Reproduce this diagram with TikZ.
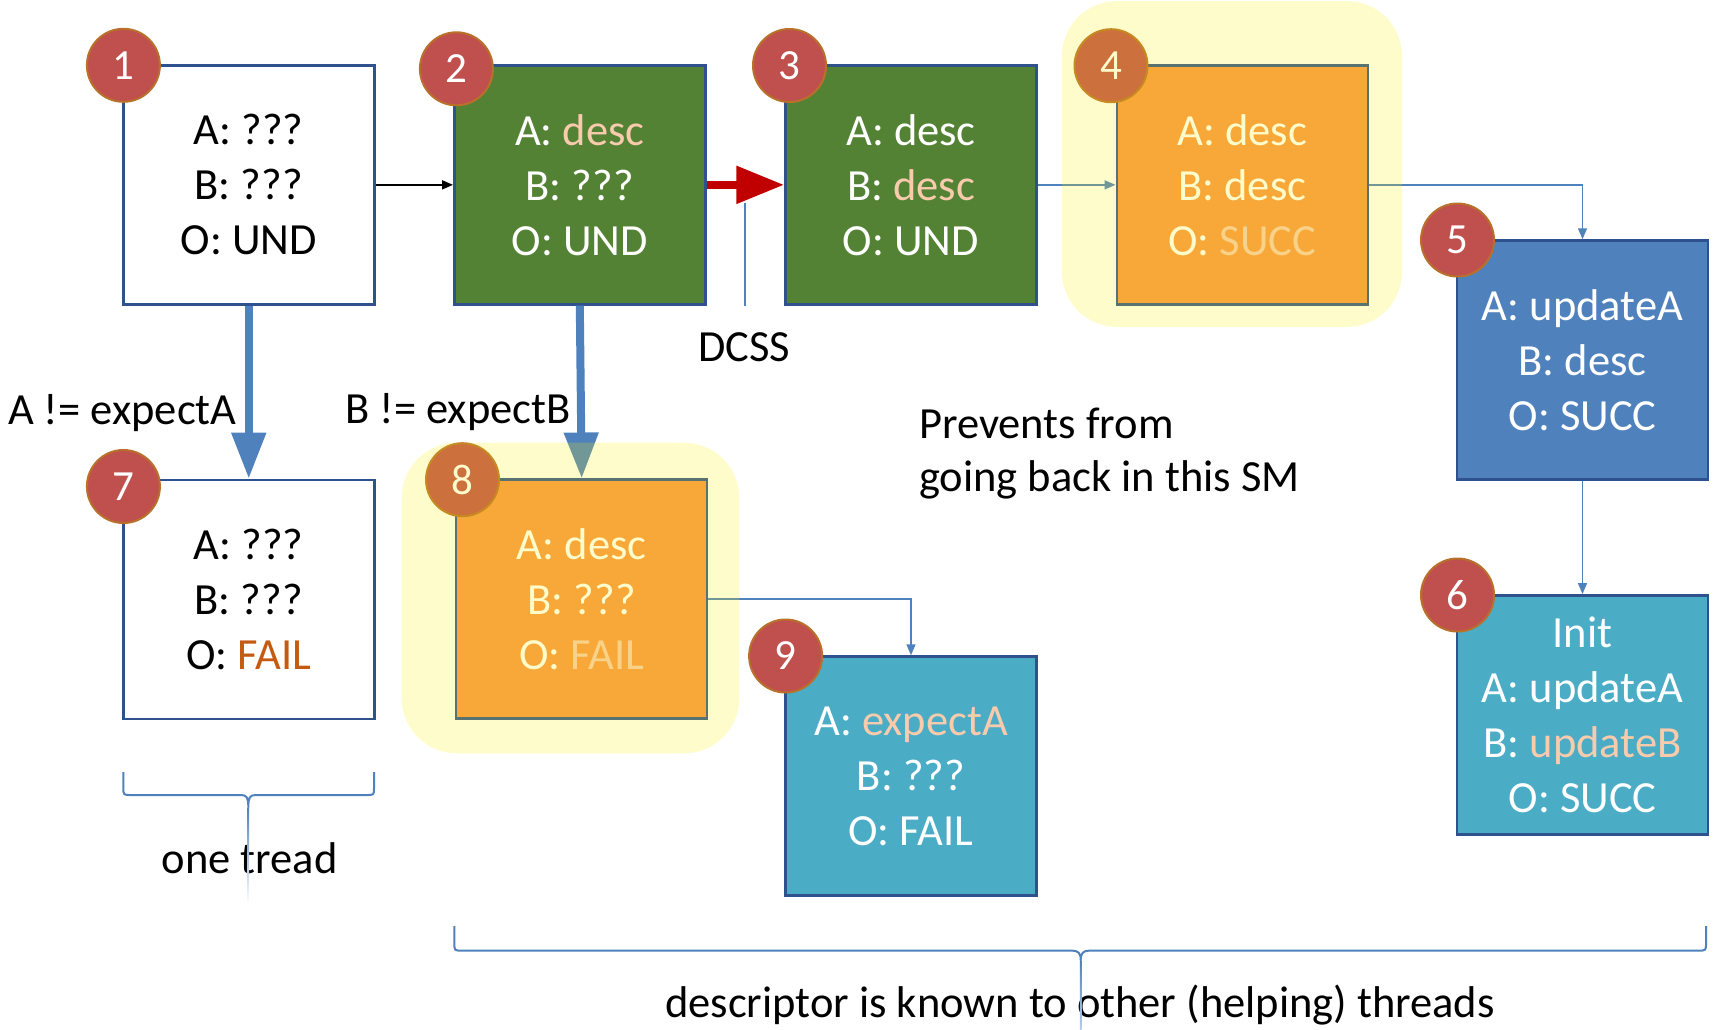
\documentclass[tikz,border=0pt]{standalone}
\usepackage{fontspec}
\setmainfont{Carlito}
\usetikzlibrary{arrows.meta}
\definecolor{bord}{HTML}{2F528F}
\definecolor{grn}{HTML}{548235}
\definecolor{blu}{HTML}{4F81BD}
\definecolor{tealc}{HTML}{4BACC6}
\definecolor{orng}{HTML}{F79646}
\definecolor{numred}{HTML}{C0504D}
\definecolor{numbord}{HTML}{B8702A}
\definecolor{peach}{HTML}{F8CBAD}
\definecolor{failc}{HTML}{C55A11}
\definecolor{redarr}{HTML}{C00000}
\begin{document}
\begin{tikzpicture}[x=1pt,y=-1pt,
  box/.style={draw=bord, line width=2.5pt, minimum width=251pt, minimum height=239pt,
    inner sep=0pt, align=center, font=\fontsize{44.5}{55}\selectfont},
  boxtext/.style={text depth=0pt},
  num/.style={circle, fill=numred, draw=numbord, line width=2pt, minimum size=73pt,
    inner sep=0pt, text=white, font=\fontsize{43}{43}\selectfont},
  lbl/.style={font=\fontsize{44.5}{53}\selectfont, inner sep=0pt},
  thinarr/.style={line width=1.5pt, -{Triangle[length=11pt,width=9pt]}},
  fatarr/.style={line width=8pt, draw=blu, -{Triangle[length=46pt,width=33pt]}},
  bracec/.style={draw=blu, line width=2pt},
  hl/.style={fill=yellow, fill opacity=0.2, rounded corners=55pt}
]
\useasboundingbox (0,0) rectangle (1722,1029);

% boxes
\node[box, fill=white] (b1) at (248.75,184.85) {A: ???\\B: ???\\O: UND};
\node[box, fill=grn, text=white] (b2) at (579.8,184.85) {A: \textcolor{peach}{desc}\\B: ???\\O: UND};
\node[box, fill=grn, text=white] (b3) at (911,184.85) {A: desc\\B: \textcolor{peach}{desc}\\O: UND};
\node[box, fill=orng, text=white] (b4) at (1242.3,184.85) {A: desc\\B: desc\\O: \textcolor{peach}{SUCC}};
\node[box, fill=blu, text=white] (b5) at (1582.5,360) {A: updateA\\B: desc\\O: SUCC};
\node[box, fill=tealc, text=white] (b6) at (1582.5,714.8) {Init\\A: updateA\\B: \textcolor{peach}{updateB}\\O: SUCC};
\node[box, fill=white] (b7) at (248.75,599.4) {A: ???\\B: ???\\O: \textcolor{failc}{FAIL}};
\node[box, fill=orng, text=white] (b8) at (581.7,599.2) {A: desc\\B: ???\\O: \textcolor{peach}{FAIL}};
\node[box, fill=tealc, text=white] (b9) at (911,776) {A: \textcolor{peach}{expectA}\\B: ???\\O: FAIL};

% labels
\node[lbl] (la) at (122.3,413) {A != expectA};
\node[lbl] (lb) at (458,412) {B != expectB};
\node[lbl] (dcss) at (744,347) {DCSS};
\node[lbl, align=left, anchor=west] (prev) at (919,454) {Prevents from\\going back in this SM};
\node[lbl] (one) at (249.6,858) {one tread};
\node[lbl] (desc) at (1080,1005) {descriptor is known to other (helping) threads};

% connectors
\draw[thinarr, black] (b1.east) -- (b2.west);
\draw[line width=8.6pt, draw=redarr, -{Triangle[length=48pt,width=36pt]}] (b2.east) -- (b3.west);
\draw[thinarr, blu] (b3.east) -- (b4.west);
\draw[thinarr, blu] (b4.east) -| (b5.north);
\draw[thinarr, blu] (b5.south) -- (b6.north);
\draw[thinarr, blu] (b8.east) -| (b9.north);
\draw[fatarr] (b1.south) -- (b7.north);
\draw[fatarr] (b2.south) -- (b8.north);
\coordinate (dcsstop) at (745,203);
\draw[blu, line width=1.5pt] (dcsstop) -- (dcsstop |- b2.south);

% braces
\draw[bracec] (123.4,772) -- (123.4,788) .. controls (123.4,795) .. (131,795) -- (241,795)
  .. controls (247,795) and (248.3,798) .. (248.3,807)
  .. controls (248.3,798) and (249.6,795) .. (255.6,795) -- (366,795)
  .. controls (374,795) .. (374,788) -- (374,772);
\shade[top color=blu, bottom color=white] (247.4,807) rectangle (249.2,903);
\draw[bracec] (454.4,926) -- (454.4,943) .. controls (454.4,950.6) .. (462,950.6) -- (1072,950.6)
  .. controls (1078,950.6) and (1080.7,953) .. (1080.7,960)
  .. controls (1080.7,953) and (1083.4,950.6) .. (1089.4,950.6) -- (1698,950.6)
  .. controls (1706,950.6) .. (1706,943) -- (1706,926);
\shade[top color=blu, bottom color=blu!40] (1079.8,960) rectangle (1081.6,1029);

% numbers
\node[num] (n1) at (123.4,65.3) {1};
\node[num] (n2) at (456.4,68.8) {2};
\node[num] (n3) at (789.5,65.5) {3};
\node[num] (n4) at (1111,65.7) {4};
\node[num] (n5) at (1457.5,240) {5};
\node[num] (n6) at (1457.5,595) {6};
\node[num] (n7) at (123.4,486.5) {7};
\node[num] (n8) at (462.5,479.7) {8};
\node[num] (n9) at (785.6,656) {9};

% highlights
\path[hl] (1062,1) rectangle (1402,327);
\path[hl] (401.7,442.7) rectangle (739.3,753.3);
\end{tikzpicture}
\end{document}
